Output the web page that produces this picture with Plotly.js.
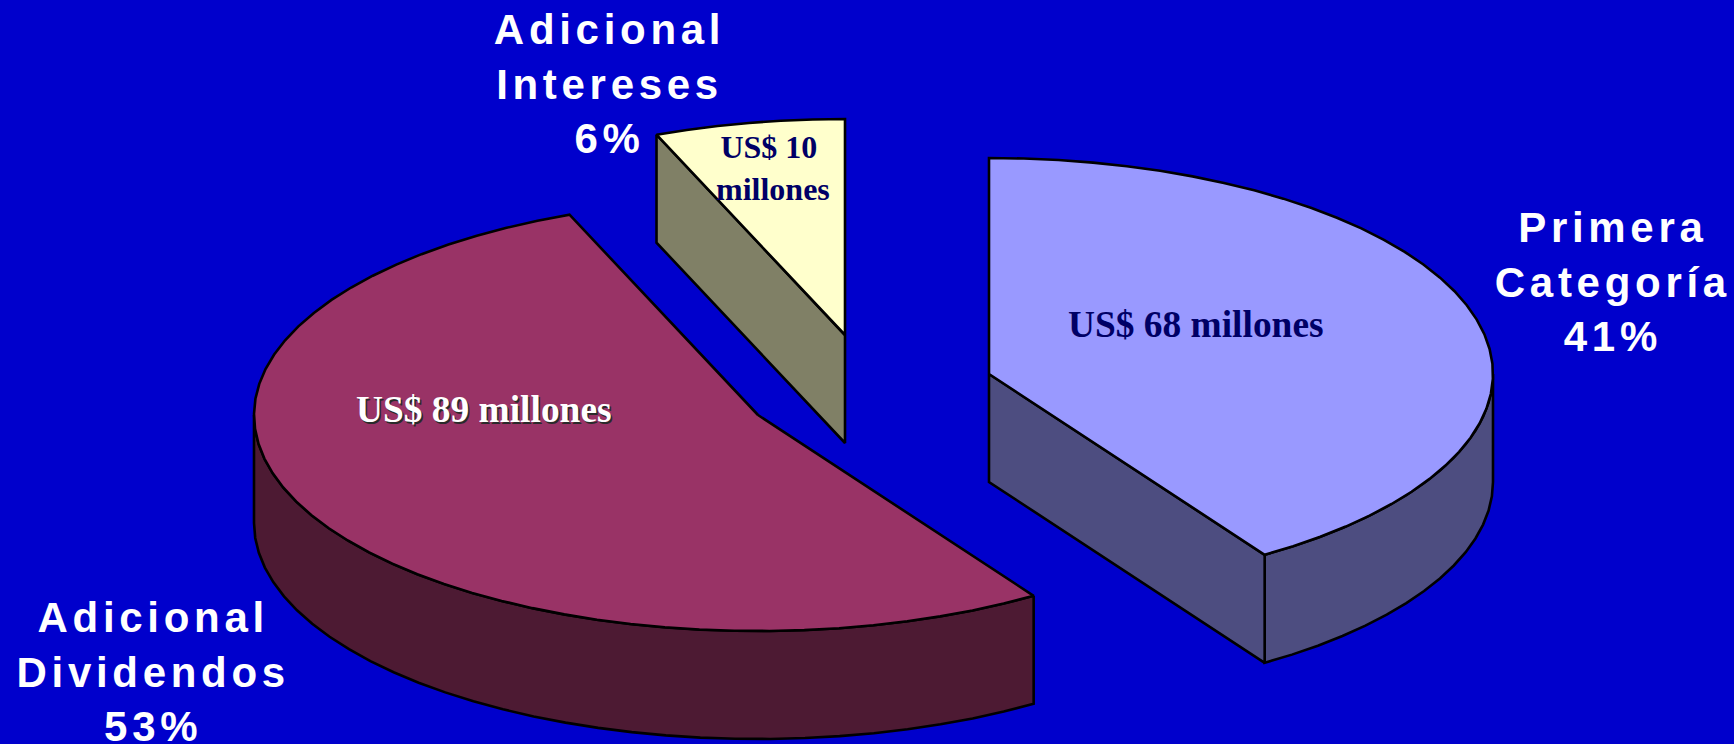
<!DOCTYPE html>
<html>
<head>
<meta charset="utf-8">
<script src="https://cdn.plot.ly/plotly-3.0.1.min.js"></script>
<style>
html,body{margin:0;padding:0;background:#0000CC;overflow:hidden}
.annotation[data-index="0"] text,.annotation[data-index="1"] text,.annotation[data-index="2"] text{letter-spacing:4.7px}
.annotation[data-index="3"] text{text-shadow:1.5px 1.5px 0 #2a2a2a !important}
</style>
</head>
<body>
<div id="chart" style="width:1734px;height:744px"></div>
<script>
// Data
const categories = ["Primera<br>Categoría", "Adicional<br>Dividendos", "Adicional<br>Intereses"];
const values = [68.2, 88.8, 10.2];
const amountLabels = ["US$ 68 millones", "US$ 89 millones", "US$ 10\u00A0<br>millones"];
const topColors = ["#9999FF", "#993366", "#FFFFCC"];
const sideColors = ["#4D4D80", "#4D1A33", "#808066"];

// Pie projection (layout constants)
const RX = 504, RY = 216, DEPTH = 108;
const centerX = [989, 758, 845];
const centerY = [374, 415, 335];
const labelPos = [[1613, 282], [153, 672], [609, 84]];
const amountPos = [[1195.5, 324], [484, 409], [773, 168]];
const STEP = 4;

const total = values.reduce((a, b) => a + b, 0);
const rad = d => d * Math.PI / 180;

function arc(i, a, b, dy) {
  const xs = [], ys = [];
  const n = Math.max(1, Math.ceil(Math.abs(b - a) / STEP));
  for (let k = 0; k <= n; k++) {
    const t = rad(a + (b - a) * k / n);
    xs.push(centerX[i] + RX * Math.sin(t));
    ys.push(centerY[i] - RY * Math.cos(t) + dy);
  }
  return [xs, ys];
}
function poly(x, y, color) {
  return {type: "scatter", mode: "lines", x, y, fill: "toself", fillcolor: color,
          line: {color: "#000", width: 2.6, shape: "linear"}, hoverinfo: "skip", showlegend: false};
}
function face(i, t, color) {
  const [ex, ey] = arc(i, t, t, 0);
  const p = [centerX[i], ex[0]], q = [centerY[i], ey[0]];
  return poly([p[0], p[1], p[1], p[0], p[0]],
              [q[0], q[1], q[1] + DEPTH, q[0] + DEPTH, q[0]], color);
}

const traces = [];
let start = 0;
values.forEach((v, i) => {
  const end = start + v / total * 360;
  const lo = Math.max(start, 90), hi = Math.min(end, 270);
  if (hi > lo) {
    const [tx, ty] = arc(i, lo, hi, 0);
    const [bx, by] = arc(i, hi, lo, DEPTH);
    traces.push(poly(tx.concat(bx, tx[0]), ty.concat(by, ty[0]), sideColors[i]));
  }
  if (Math.sin(rad(start)) < -1e-6) traces.push(face(i, start, sideColors[i]));
  if (Math.sin(rad(end)) > 1e-6) traces.push(face(i, end, sideColors[i]));
  const [ax, ay] = arc(i, start, end, 0);
  traces.push(poly([centerX[i]].concat(ax, centerX[i]), [centerY[i]].concat(ay, centerY[i]), topColors[i]));
  start = end;
});

const annotations = [];
categories.forEach((c, i) => annotations.push({
  text: "<b>" + c + "<br>" + Math.round(values[i] / total * 100) + "%</b>",
  x: labelPos[i][0], y: labelPos[i][1], xref: "x", yref: "y", showarrow: false,
  xanchor: "center", yanchor: "middle", align: "center",
  font: {family: "Liberation Sans, Arial, sans-serif", size: 42, color: "#FFFFFF"}
}));
const amountSize = [37.4, 37.4, 32];
const amountColor = ["#000066", "#FFFFFF", "#000066"];
amountLabels.forEach((t, i) => annotations.push({
  text: "<b>" + t + "</b>",
  x: amountPos[i][0], y: amountPos[i][1], xref: "x", yref: "y", showarrow: false,
  xanchor: "center", yanchor: "middle", align: "center",
  font: {family: "Liberation Serif, Times New Roman, serif", size: amountSize[i], color: amountColor[i]}
}));
// data-index 3 must be the white label with the shadow
[annotations[3], annotations[4]] = [annotations[4], annotations[3]];

Plotly.newPlot("chart", traces, {
  width: 1734, height: 744,
  margin: {l: 0, r: 0, t: 0, b: 0},
  paper_bgcolor: "#0000CC", plot_bgcolor: "#0000CC",
  xaxis: {visible: false, range: [0, 1734], fixedrange: true},
  yaxis: {visible: false, range: [744, 0], fixedrange: true},
  annotations
}, {displayModeBar: false, staticPlot: true});
</script>
</body>
</html>
